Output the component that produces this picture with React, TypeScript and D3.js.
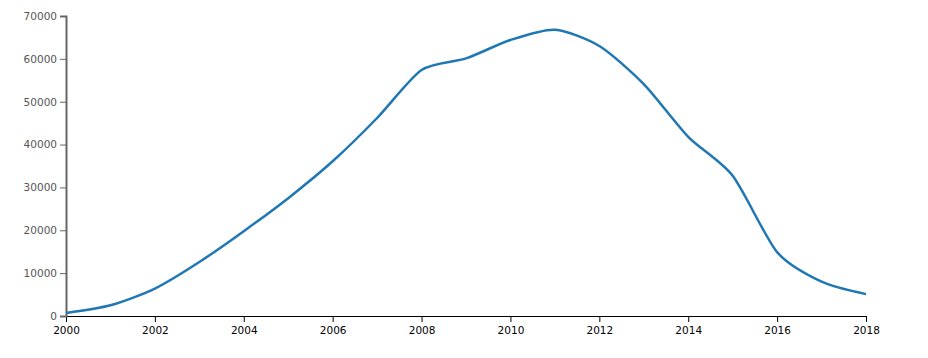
import React, { useEffect, useRef } from "react";
import * as d3 from "d3";

const years = [2000, 2001, 2002, 2003, 2004, 2005, 2006, 2007, 2008, 2009, 2010, 2011, 2012, 2013, 2014, 2015, 2016, 2017, 2018];
const values = [700, 2500, 6400, 12600, 19800, 27500, 36100, 46200, 57400, 60100, 64400, 66800, 63000, 54100, 41800, 32700, 14900, 8000, 5100];
const yTicks = [0, 10000, 20000, 30000, 40000, 50000, 60000, 70000];
const xTicks = [2000, 2002, 2004, 2006, 2008, 2010, 2012, 2014, 2016, 2018];

const W = 928, H = 358;
const M = { top: 16, right: 62, bottom: 42, left: 66 };

export default function App() {
  const ref = useRef<SVGSVGElement>(null);
  useEffect(() => {
    document.body.style.margin = "0";
    const svg = d3.select(ref.current);
    svg.selectAll("*").remove();
    const x = d3.scaleLinear().domain([2000, 2018]).range([M.left, W - M.right]);
    const y = d3.scaleLinear().domain([0, 70000]).range([H - M.bottom, M.top]);

    const gx = svg.append("g").attr("transform", `translate(0,${H - M.bottom})`)
      .call(d3.axisBottom(x).tickValues(xTicks).tickFormat(d3.format("d")).tickSizeOuter(6));
    gx.selectAll("text").attr("font-family", "DejaVu Sans").attr("font-size", 10.5).attr("fill", "#000").attr("dy", "0.9em");
    gx.selectAll("path, line").attr("stroke", "#000");

    const gy = svg.append("g").attr("transform", `translate(${M.left},0)`)
      .call(d3.axisLeft(y).tickValues(yTicks).tickFormat(d3.format("d")).tickSizeOuter(6));
    gy.select(".domain").attr("stroke", "#666").attr("stroke-width", 2);
    gy.selectAll("line").attr("stroke", "#666");
    gy.selectAll("text").attr("font-family", "DejaVu Sans").attr("font-size", 10.5).attr("fill", "#555");

    const line = d3.line<number>()
      .x((_, i) => x(years[i]))
      .y((d) => y(d))
      .curve(d3.curveCardinal.tension(0.25));
    svg.append("path").datum(values).attr("d", line).attr("fill", "none")
      .attr("stroke", "#1f77b4").attr("stroke-width", 2.5);
  }, []);
  return <svg ref={ref} width={W} height={H} style={{ display: "block" }} />;
}
